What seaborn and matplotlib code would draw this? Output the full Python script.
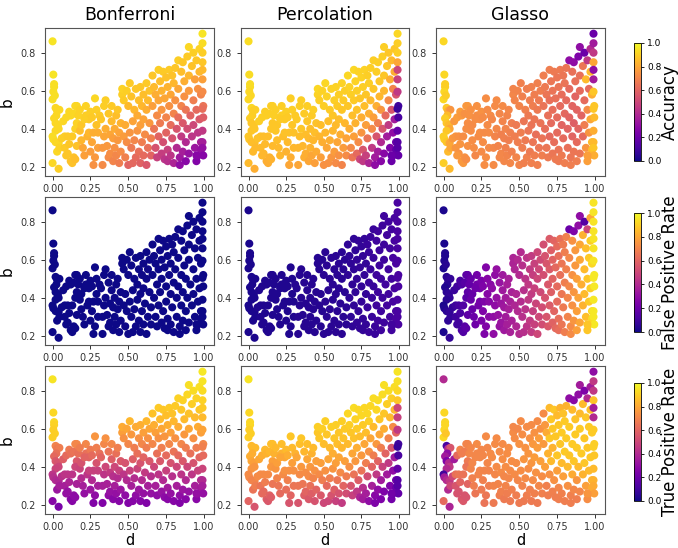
import matplotlib
matplotlib.use("Agg")
import matplotlib.pyplot as plt
import seaborn as sns
import pandas as pd
from matplotlib.cm import ScalarMappable
from matplotlib.colors import Normalize

# ---------------- data ----------------
methods = ["Bonferroni", "Percolation", "Glasso"]
metric_labels = ["Accuracy", "False Positive Rate", "True Positive Rate"]
x_ticks = [0.0, 0.25, 0.5, 0.75, 1.0]
y_ticks = [0.2, 0.4, 0.6, 0.8]
cbar_ticks = [0.0, 0.2, 0.4, 0.6, 0.8, 1.0]

d = [0.00,0.005,0.01,0.01,0.005,0.00,0.015,0.02,0.03,0.045,0.025,0.01,0.02,0.035,0.04,0.02,0.00,0.005,0.02,0.04,0.03,0.045,0.00,0.04,
     0.07,0.06,0.08,0.08,0.09,0.10,0.11,0.12,0.10,0.11,0.12,0.13,0.14,0.09,0.13,0.14,0.15,0.16,0.16,0.15,0.16,0.15,
     0.17,0.18,0.19,0.19,0.20,0.21,0.22,0.22,0.23,0.24,0.24,0.25,0.26,0.26,0.27,0.27,0.28,0.28,0.29,0.29,0.30,0.30,0.25,0.21,0.18,
     0.31,0.32,0.33,0.33,0.34,0.34,0.35,0.35,0.36,0.37,0.37,0.38,0.38,0.39,0.39,0.40,0.40,0.41,0.41,0.42,0.42,0.43,0.43,0.44,0.44,0.45,0.45,0.46,0.46,0.47,0.47,0.48,0.48,0.49,0.49,
     0.50,0.50,0.51,0.51,0.52,0.52,0.53,0.53,0.54,0.54,0.55,0.55,0.56,0.56,0.57,0.57,0.58,0.58,0.58,0.59,0.59,0.60,0.60,0.60,0.61,0.62,0.62,0.62,0.63,0.63,0.64,0.64,0.65,0.65,
     0.66,0.66,0.67,0.67,0.68,0.68,0.69,0.69,0.70,0.70,0.70,0.71,0.71,0.72,0.72,0.72,0.73,0.73,0.74,0.74,0.75,0.75,0.75,0.76,0.76,0.76,0.77,0.77,0.78,0.78,0.78,0.79,0.79,0.80,0.80,0.80,
     0.81,0.81,0.82,0.82,0.83,0.83,0.83,0.84,0.84,0.85,0.85,0.85,0.86,0.86,0.86,0.87,0.87,0.88,0.88,0.88,0.89,0.89,0.90,0.90,0.90,0.90,0.91,0.92,0.92,
     0.93,0.93,0.93,0.94,0.94,0.95,0.95,0.95,0.96,0.96,0.96,0.97,0.97,0.97,0.98,0.98,0.98,0.99,0.99,0.99,0.99,0.99,0.99,0.99,0.995,0.99,0.995,0.99,0.99,0.99,0.995,0.95]

b = [0.86,0.685,0.635,0.62,0.595,0.555,0.575,0.51,0.495,0.50,0.47,0.455,0.43,0.42,0.40,0.39,0.36,0.345,0.33,0.325,0.28,0.30,0.22,0.19,
     0.44,0.35,0.36,0.30,0.46,0.36,0.49,0.47,0.27,0.32,0.23,0.22,0.25,0.26,0.36,0.48,0.52,0.52,0.43,0.40,0.31,0.24,
     0.47,0.39,0.42,0.34,0.30,0.26,0.52,0.47,0.36,0.38,0.45,0.49,0.46,0.33,0.38,0.21,0.56,0.25,0.50,0.42,0.38,0.30,0.28,0.45,0.50,
     0.47,0.45,0.21,0.30,0.52,0.36,0.40,0.55,0.31,0.48,0.25,0.37,0.27,0.52,0.44,0.35,0.23,0.40,0.30,0.47,0.26,0.50,0.34,0.38,0.22,0.43,0.28,0.58,0.61,0.55,0.36,0.42,0.25,0.60,0.33,
     0.52,0.21,0.64,0.38,0.57,0.30,0.44,0.22,0.50,0.34,0.61,0.25,0.47,0.39,0.55,0.28,0.62,0.42,0.22,0.52,0.33,0.58,0.45,0.26,0.37,0.64,0.50,0.21,0.55,0.30,0.43,0.60,0.35,0.26,
     0.68,0.52,0.62,0.40,0.58,0.30,0.47,0.25,0.71,0.55,0.36,0.65,0.43,0.27,0.60,0.50,0.70,0.33,0.56,0.24,0.67,0.46,0.38,0.62,0.29,0.23,0.71,0.52,0.58,0.42,0.26,0.68,0.35,0.64,0.48,0.22,
     0.72,0.55,0.40,0.30,0.76,0.61,0.46,0.25,0.21,0.70,0.52,0.36,0.75,0.43,0.28,0.65,0.57,0.50,0.33,0.23,0.78,0.40,0.83,0.68,0.60,0.27,0.47,0.73,0.36,
     0.80,0.55,0.42,0.66,0.30,0.23,0.76,0.50,0.61,0.38,0.26,0.82,0.70,0.45,0.58,0.33,0.29,0.90,0.85,0.80,0.75,0.71,0.66,0.595,0.52,0.505,0.46,0.39,0.33,0.30,0.26,0.26]

acc_bonferroni = [.95,.95,.94,.94,.94,.94,.94,.92,.92,.92,.92,.92,.92,.92,.92,.92,.93,.93,.92,.92,.92,.91,.92,.90,
     .92,.90,.90,.89,.92,.89,.92,.92,.88,.88,.87,.87,.87,.88,.89,.92,.92,.92,.91,.91,.87,.86,
     .91,.86,.88,.84,.80,.78,.91,.90,.83,.84,.89,.90,.89,.80,.82,.74,.92,.76,.90,.87,.82,.78,.77,.90,.91,
     .89,.88,.72,.76,.90,.80,.82,.90,.76,.88,.72,.80,.73,.89,.85,.78,.70,.81,.74,.86,.71,.88,.76,.79,.68,.83,.72,.90,.91,.89,.77,.81,.69,.90,.73,
     .85,.60,.89,.75,.87,.67,.79,.61,.84,.71,.88,.62,.81,.75,.86,.64,.88,.78,.59,.84,.68,.86,.79,.62,.72,.89,.82,.56,.85,.64,.76,.87,.69,.60,
     .88,.78,.85,.66,.82,.54,.72,.48,.90,.80,.60,.86,.67,.47,.83,.75,.89,.53,.80,.44,.87,.70,.60,.83,.48,.42,.89,.74,.80,.63,.44,.87,.54,.84,.70,.38,
     .88,.74,.55,.40,.90,.80,.63,.34,.30,.86,.70,.46,.88,.56,.36,.82,.74,.66,.40,.28,.89,.52,.92,.84,.76,.32,.60,.87,.44,
     .90,.68,.50,.78,.33,.26,.88,.62,.74,.44,.28,.91,.84,.56,.70,.36,.31,.95,.93,.90,.88,.85,.78,.72,.65,.63,.58,.45,.36,.31,.27,.28]

acc_percolation = [.93,.93,.93,.93,.92,.92,.92,.92,.90,.90,.90,.90,.88,.88,.88,.88,.88,.88,.86,.86,.85,.85,.85,.82,
     .90,.87,.87,.85,.90,.86,.90,.90,.84,.85,.82,.82,.83,.84,.86,.90,.90,.90,.88,.88,.85,.83,
     .90,.88,.88,.86,.85,.84,.90,.90,.86,.87,.89,.90,.89,.85,.87,.80,.90,.82,.90,.88,.87,.84,.83,.89,.90,
     .89,.89,.80,.84,.90,.86,.88,.90,.84,.89,.82,.86,.82,.90,.88,.85,.80,.86,.83,.89,.80,.90,.84,.86,.78,.87,.81,.91,.92,.90,.84,.86,.78,.91,.82,
     .90,.74,.92,.84,.91,.80,.86,.74,.89,.82,.91,.75,.88,.84,.90,.77,.91,.85,.72,.89,.80,.90,.86,.74,.82,.91,.88,.70,.89,.77,.84,.90,.79,.72,
     .92,.88,.91,.82,.90,.72,.86,.66,.92,.89,.78,.91,.83,.62,.90,.87,.91,.72,.88,.50,.91,.82,.75,.90,.55,.45,.91,.86,.88,.78,.48,.90,.65,.90,.82,.38,
     .90,.85,.72,.45,.90,.88,.78,.35,.30,.90,.82,.55,.90,.68,.35,.88,.84,.75,.40,.28,.90,.55,.90,.88,.84,.28,.62,.88,.35,
     .88,.72,.45,.82,.25,.20,.85,.55,.70,.30,.20,.88,.82,.35,.55,.20,.18,.92,.90,.90,.80,.50,.48,.45,.10,.08,.12,.18,.15,.15,.18,.20]

acc_glasso = [.92,.92,.90,.90,.92,.92,.90,.88,.82,.75,.85,.90,.88,.85,.80,.88,.90,.90,.88,.80,.85,.80,.90,.85,
     .76,.76,.75,.75,.77,.74,.77,.76,.74,.75,.76,.76,.74,.76,.73,.74,.76,.76,.73,.73,.74,.73,
     .74,.73,.72,.73,.73,.71,.74,.73,.72,.73,.73,.74,.72,.73,.72,.73,.73,.73,.72,.72,.72,.72,.72,.73,.74,
     .72,.71,.72,.71,.72,.70,.71,.72,.70,.71,.71,.69,.71,.72,.70,.69,.71,.70,.69,.70,.70,.71,.68,.69,.71,.68,.69,.71,.70,.70,.68,.67,.70,.70,.68,
     .70,.70,.69,.68,.69,.68,.66,.69,.69,.67,.68,.69,.67,.66,.68,.67,.69,.65,.69,.68,.66,.68,.66,.68,.64,.69,.67,.69,.67,.66,.65,.68,.65,.68,
     .68,.65,.67,.63,.66,.66,.64,.67,.68,.64,.62,.66,.62,.66,.65,.63,.67,.63,.64,.67,.66,.62,.62,.65,.65,.67,.67,.62,.63,.60,.67,.66,.62,.65,.61,.68,
     .66,.62,.60,.64,.30,.62,.60,.66,.68,.64,.60,.60,.30,.58,.66,.64,.60,.60,.62,.68,.25,.60,.30,.64,.62,.66,.60,.66,.62,
     .20,.62,.68,.85,.75,.78,.45,.72,.62,.75,.78,.40,.85,.80,.82,.85,.85,.20,.35,.45,.80,.30,.35,.88,.88,.88,.85,.82,.85,.88,.82,.78]

# Bonferroni FPR: every point sits at the bottom of the colour scale
fpr_bonferroni = [0.0] * len(d)

# Percolation FPR: near zero, creeping up slightly towards d = 1 (strip by strip)
fpr_percolation = ([.02] * 24 + [.03] * 47 + [.04] * 35 + [.05] * 34 + [.06] * 13 + [.07] * 18
                   + [.08] * 14 + [.09] * 17 + [.10] * 11 + [.11] * 6 + [.12] * 17 + [.10] * 1)

fpr_glasso = [.02,.02,.03,.03,.03,.02,.04,.05,.06,.07,.05,.03,.05,.06,.07,.05,.02,.03,.05,.07,.06,.07,.02,.07,
     .08,.07,.09,.09,.10,.11,.12,.13,.11,.12,.13,.14,.15,.10,.14,.15,.16,.17,.17,.16,.17,.16,
     .18,.19,.19,.19,.20,.21,.22,.22,.22,.23,.23,.24,.25,.25,.25,.25,.26,.26,.27,.27,.28,.28,.24,.21,.19,
     .28,.29,.30,.30,.30,.30,.31,.31,.32,.32,.32,.33,.33,.34,.34,.34,.34,.35,.35,.36,.36,.36,.36,.37,.37,.37,.37,.38,.38,.39,.39,.39,.39,.40,.40,
     .40,.40,.41,.41,.42,.42,.42,.42,.43,.43,.44,.44,.45,.45,.46,.46,.46,.46,.46,.47,.47,.48,.48,.48,.49,.50,.50,.50,.50,.50,.51,.51,.52,.52,
     .53,.53,.54,.54,.55,.55,.56,.56,.57,.57,.57,.58,.58,.59,.59,.59,.60,.60,.61,.61,.62,.62,.62,.63,.63,.63,.64,.64,.66,.66,.66,.67,.67,.68,.68,.68,
     .69,.69,.70,.70,.20,.71,.71,.72,.72,.74,.74,.74,.25,.75,.75,.76,.76,.78,.78,.78,.30,.79,.30,.80,.80,.80,.82,.83,.83,
     .15,.85,.85,.86,.86,.88,.50,.88,.89,.89,.89,.80,.90,.90,.92,.92,.92,.95,.95,.95,.95,.95,.95,.95,.96,.96,.96,.96,.96,.96,.96,.88]

tpr_bonferroni = [.95,.92,.92,.91,.90,.90,.90,.70,.67,.68,.64,.61,.56,.54,.50,.49,.44,.42,.40,.39,.33,.36,.27,.24,
     .58,.42,.44,.36,.62,.44,.67,.64,.32,.38,.28,.27,.30,.31,.44,.65,.71,.71,.56,.50,.37,.29,
     .64,.49,.54,.41,.36,.31,.71,.64,.44,.48,.60,.67,.62,.40,.48,.26,.75,.30,.68,.54,.48,.36,.33,.60,.68,
     .64,.60,.26,.36,.71,.44,.50,.74,.37,.65,.30,.46,.32,.71,.58,.42,.28,.50,.36,.64,.31,.68,.41,.48,.27,.56,.33,.78,.81,.74,.44,.54,.30,.80,.40,
     .71,.26,.84,.48,.76,.36,.58,.27,.68,.41,.81,.30,.64,.49,.74,.33,.82,.54,.27,.71,.40,.78,.60,.31,.46,.84,.68,.26,.74,.36,.56,.80,.42,.31,
     .87,.71,.82,.50,.78,.36,.64,.30,.89,.74,.44,.85,.56,.32,.80,.68,.88,.40,.75,.29,.86,.62,.48,.82,.35,.28,.89,.71,.78,.54,.31,.87,.42,.84,.65,.27,
     .89,.74,.50,.36,.91,.81,.62,.30,.26,.88,.71,.44,.91,.56,.33,.85,.76,.68,.40,.28,.92,.50,.94,.87,.80,.32,.64,.90,.44,
     .93,.74,.54,.85,.36,.28,.91,.68,.81,.48,.31,.94,.88,.60,.78,.40,.35,.96,.95,.93,.91,.89,.85,.79,.71,.69,.62,.49,.40,.36,.31,.31]

tpr_percolation = [.95,.92,.92,.92,.90,.90,.90,.85,.85,.85,.82,.82,.80,.78,.75,.75,.72,.72,.70,.70,.65,.68,.60,.55,
     .80,.72,.72,.66,.82,.72,.85,.83,.62,.68,.58,.56,.60,.62,.72,.84,.86,.86,.78,.76,.66,.58,
     .83,.75,.78,.70,.66,.62,.86,.83,.72,.74,.80,.85,.82,.69,.74,.55,.88,.60,.85,.78,.74,.66,.63,.80,.85,
     .83,.80,.55,.66,.86,.72,.76,.88,.66,.84,.58,.73,.60,.86,.80,.72,.56,.76,.64,.83,.58,.85,.70,.74,.54,.78,.60,.88,.90,.88,.72,.78,.56,.90,.68,
     .86,.50,.90,.74,.88,.62,.80,.50,.85,.68,.90,.54,.82,.75,.88,.58,.90,.78,.48,.86,.66,.88,.80,.54,.72,.90,.84,.46,.87,.60,.78,.89,.68,.52,
     .92,.85,.90,.74,.88,.55,.80,.48,.93,.87,.65,.91,.76,.45,.89,.82,.92,.58,.86,.38,.92,.76,.65,.89,.42,.35,.92,.80,.86,.68,.36,.92,.52,.90,.74,.30,
     .92,.80,.60,.36,.93,.85,.68,.28,.25,.92,.76,.45,.93,.60,.30,.88,.80,.68,.35,.25,.93,.48,.94,.88,.82,.25,.60,.90,.35,
     .93,.70,.45,.85,.25,.22,.90,.55,.72,.30,.20,.93,.85,.35,.60,.22,.20,.95,.94,.92,.88,.50,.48,.45,.10,.08,.12,.18,.15,.15,.18,.22]

tpr_glasso = [.40,.92,.92,.92,.92,.92,.88,.12,.40,.55,.30,.35,.25,.40,.45,.40,.10,.35,.40,.45,.40,.50,.62,.38,
     .35,.50,.64,.55,.62,.66,.70,.68,.55,.60,.55,.56,.55,.54,.65,.68,.70,.70,.67,.65,.60,.55,
     .71,.70,.71,.69,.68,.66,.72,.71,.70,.70,.71,.71,.71,.69,.70,.65,.72,.66,.71,.71,.70,.68,.67,.71,.71,
     .72,.72,.67,.70,.72,.71,.72,.72,.70,.72,.68,.72,.69,.72,.73,.71,.67,.73,.70,.73,.68,.73,.71,.72,.67,.73,.69,.72,.71,.72,.72,.73,.68,.71,.71,
     .74,.67,.72,.73,.73,.70,.75,.67,.74,.72,.72,.68,.75,.73,.74,.69,.72,.75,.67,.76,.72,.74,.77,.69,.74,.72,.77,.67,.77,.71,.78,.74,.73,.69,
     .72,.76,.76,.78,.81,.69,.83,.68,.85,.88,.74,.88,.85,.69,.88,.83,.88,.74,.88,.68,.85,.88,.78,.88,.71,.68,.83,.88,.89,.85,.69,.87,.78,.89,.89,.68,
     .83,.89,.85,.74,.30,.89,.88,.69,.68,.85,.89,.81,.28,.88,.71,.87,.89,.89,.75,.68,.30,.85,.35,.85,.89,.71,.89,.85,.83,
     .25,.88,.88,.88,.78,.73,.40,.88,.89,.85,.75,.35,.87,.88,.89,.83,.81,.30,.45,.45,.87,.35,.40,.89,.90,.90,.88,.85,.83,.81,.78,.75]

series = {
    "acc_bonferroni": acc_bonferroni, "acc_percolation": acc_percolation, "acc_glasso": acc_glasso,
    "fpr_bonferroni": fpr_bonferroni, "fpr_percolation": fpr_percolation, "fpr_glasso": fpr_glasso,
    "tpr_bonferroni": tpr_bonferroni, "tpr_percolation": tpr_percolation, "tpr_glasso": tpr_glasso,
}
problems = [f"{k}: {len(v)} vs {len(d)}" for k, v in series.items() if len(v) != len(d)]
for k, v in series.items():
    if len(v) > len(d):
        del v[len(d):]
    while len(v) < len(d):
        v.append(v[-1])

values = [
    [acc_bonferroni, acc_percolation, acc_glasso],
    [fpr_bonferroni, fpr_percolation, fpr_glasso],
    [tpr_bonferroni, tpr_percolation, tpr_glasso],
]

# ---------------- figure ----------------
W, H = 678, 548
fig = plt.figure(figsize=(W / 100, H / 100), dpi=100)
fig.patch.set_facecolor("white")

col_px = [(45, 214), (241, 409), (436, 605)]
row_px = [(28, 176), (197, 345), (366, 514)]
cbar_px = [(43, 161), (213, 332), (383, 501)]
cbar_x = (634, 641)

norm = Normalize(vmin=0, vmax=1)
cmap = "plasma"

for i in range(3):
    for j in range(3):
        x0, x1 = col_px[j]
        y0, y1 = row_px[i]
        ax = fig.add_axes([x0 / W, 1 - y1 / H, (x1 - x0) / W, (y1 - y0) / H])
        df = pd.DataFrame({"d": d, "b": b, "v": values[i][j]})
        sns.scatterplot(data=df, x="d", y="b", hue="v", palette=cmap, hue_norm=(0, 1),
                        s=34, linewidth=0, edgecolor="none", legend=False, ax=ax)
        ax.set_xlim(-0.05, 1.066)
        ax.set_ylim(0.152, 0.93)
        ax.set_xticks(x_ticks)
        ax.set_xticklabels([f"{t:.2f}" for t in x_ticks])
        ax.set_yticks(y_ticks)
        ax.set_yticklabels([f"{t:.1f}" for t in y_ticks])
        ax.tick_params(labelsize=7, length=3, width=0.7, colors="#333333")
        ax.tick_params(axis="x", pad=2.5)
        for sp in ax.spines.values():
            sp.set_linewidth(0.8)
            sp.set_color("#555555")
        ax.set_xlabel("d" if i == 2 else "", fontsize=10.5, labelpad=1)
        ax.set_ylabel("b" if j == 0 else "", fontsize=11)
        if i == 0:
            ax.set_title(methods[j], fontsize=12.5, pad=6)

    cy0, cy1 = cbar_px[i]
    cax = fig.add_axes([cbar_x[0] / W, 1 - cy1 / H, (cbar_x[1] - cbar_x[0]) / W, (cy1 - cy0) / H])
    sm = ScalarMappable(norm=norm, cmap=cmap)
    cb = fig.colorbar(sm, cax=cax)
    cb.set_ticks(cbar_ticks)
    cb.ax.tick_params(labelsize=6.5, length=2.5, width=0.6, pad=2)
    cb.outline.set_linewidth(0.6)
    cb.set_label(metric_labels[i], fontsize=12)
    cb.ax.yaxis.set_label_coords(3.9, 0.5)

fig.savefig("out.png", dpi=100)

if problems:
    raise SystemExit("length mismatch: " + "; ".join(problems))
